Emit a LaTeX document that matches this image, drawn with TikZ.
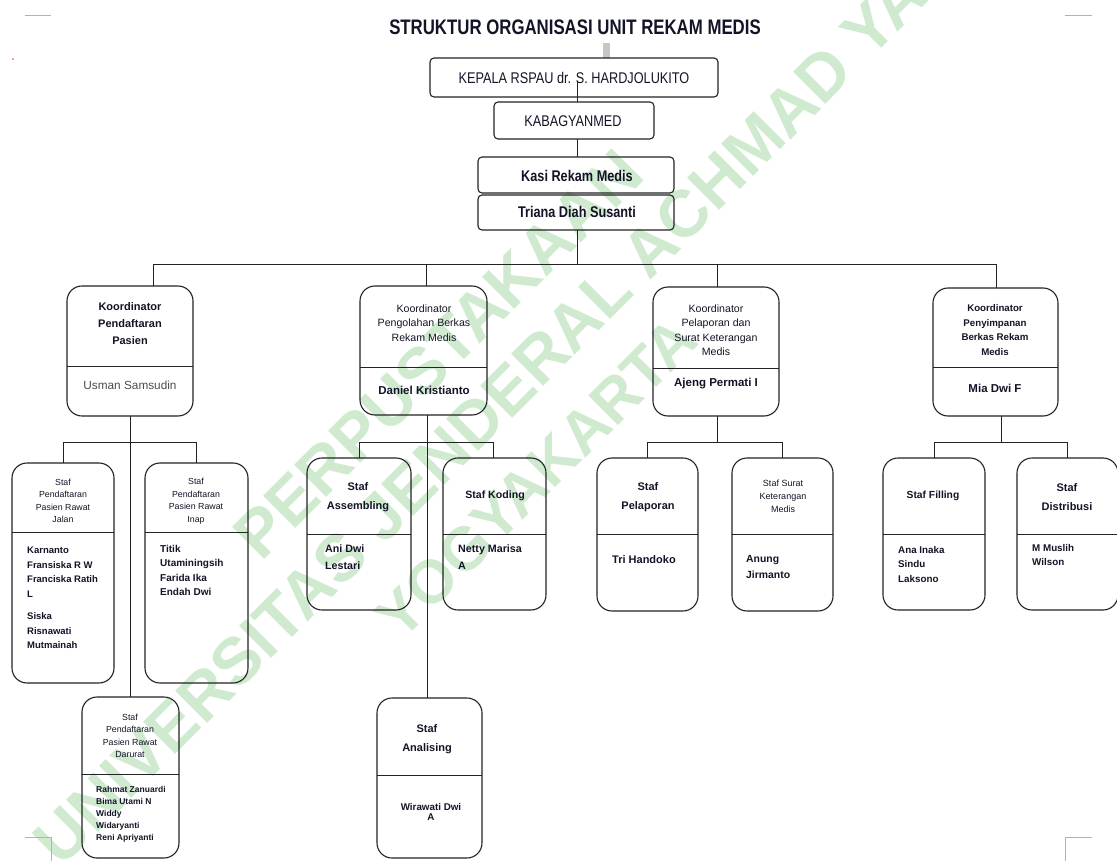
\documentclass[tikz,border=0pt]{standalone}
\usepackage{fontspec}
\setmainfont{Liberation Sans}
\newfontfamily\narrowfont[FakeStretch=0.8]{Liberation Sans}
\newfontfamily\condfont[FakeStretch=0.82]{Liberation Sans}
\definecolor{wm}{RGB}{208,234,208}
\definecolor{ln}{RGB}{35,35,35}
\definecolor{tx}{RGB}{20,20,40}
\tikzset{
  box/.style={draw=ln, line width=1.1pt, rounded corners=15pt, inner sep=0pt, outer sep=0pt},
  topbox/.style={draw=ln, line width=1.1pt, rounded corners=4pt, inner sep=0pt, outer sep=0pt},
  conn/.style={draw=ln, line width=1pt},
  wmk/.style={rotate=45, text=wm, font=\bfseries\fontsize{66}{70}\selectfont, inner sep=0pt},
  toptext/.style={font=\condfont\fontsize{15.5}{17}\selectfont, text=tx, inner sep=0pt},
  toptextb/.style={font=\condfont\bfseries\fontsize{15.5}{17}\selectfont, text=tx, inner sep=0pt},
  hdr/.style={font=\bfseries\fontsize{11}{18.5}\selectfont, align=center, inner sep=0pt, text=tx},
  khdr/.style={font=\bfseries\fontsize{11}{17}\selectfont, align=center, inner sep=0pt, text=tx},
  khdrs/.style={font=\fontsize{10.6}{14.5}\selectfont, align=center, inner sep=0pt, text=tx},
  kname/.style={font=\bfseries\fontsize{11.5}{13}\selectfont, inner sep=0pt, text=tx},
  tiny/.style={font=\fontsize{8.8}{12.5}\selectfont, align=center, inner sep=0pt, text=tx},
  nm/.style={font=\bfseries\fontsize{9.5}{14.5}\selectfont, align=left, inner sep=0pt, anchor=north west, text=tx},
  cropmark/.style={draw=gray!60, line width=0.8pt}
}
\newcommand\orgbox[6]{%
  \node[box, minimum width={(#4-#2)*1pt}, minimum height={(#5-#3)*1pt}] (#1) at ({(#2+#4)/2},{(#3+#5)/2}) {};
  \coordinate (#1d) at (0,#6);
  \draw[conn] (#1.west |- #1d) -- (#1.east |- #1d);}
\begin{document}
\begin{tikzpicture}[x=1pt,y=-1pt]
\useasboundingbox (0,0) rectangle (1117,861);
\clip (0,0) rectangle (1117,861);
\fill[white] (0,0) rectangle (1117,861);
% watermark
\node[wmk] (wm1) at (438,354) {PERPUSTAKAAN};
\node[wmk] (wm2) at (503,395) {UNIVERSITAS JENDERAL ACHMAD YANI};
\node[wmk, font=\bfseries\fontsize{61}{65}\selectfont] (wm3) at (536,478) {YOGYAKARTA};
% crop marks
\draw[cropmark] (25,15) -- (51,15);
\draw[cropmark] (1065,15) -- (1092,15);
\draw[cropmark] (25,837) -- (51,837) -- (51,861);
\draw[cropmark] (1092,837) -- (1065,837) -- (1065,861);
\fill[red!80] (13,59) circle (0.9);
% title
\node[font=\narrowfont\bfseries\fontsize{21}{24}\selectfont, text=tx, inner sep=0pt] (title) at (575,27) {STRUKTUR ORGANISASI UNIT REKAM MEDIS};
\fill[gray!45] (603,43) rectangle (610,58);
% top boxes
\node[topbox, minimum width=288pt, minimum height=39pt] (kepala) at (574,77.5) {};
\node[toptext] at (574,78) {KEPALA RSPAU dr. S. HARDJOLUKITO};
\node[topbox, minimum width=160pt, minimum height=37pt] (kabag) at (574,120.5) {};
\node[toptext] at (573,121) {KABAGYANMED};
\node[topbox, minimum width=196pt, minimum height=36pt] (kasi) at (576,175) {};
\node[toptextb] at (577,176) {Kasi Rekam Medis};
\node[topbox, minimum width=196pt, minimum height=35pt] (triana) at (576,212.5) {};
\node[toptextb] at (577,212) {Triana Diah Susanti};
\draw[conn] (577,82) -- (kabag.north -| 577,0);
\draw[conn] (kabag.south -| 577,0) -- (kasi.north -| 577,0);
\coordinate (bus) at (577,265);
\draw[conn] (triana.south -| bus) -- (bus);
% coordinators
\orgbox{k1}{67}{286}{193}{416}{366}
\orgbox{k2}{360}{286}{487}{415}{367}
\orgbox{k3}{653}{287}{779}{416}{368}
\orgbox{k4}{933}{288}{1058}{416}{367}
\draw[conn] (k1.north -| 153,0) -- (bus -| 153,0) -- (bus -| 996,0) -- (k4.north -| 996,0);
\draw[conn] (bus -| 426,0) -- (k2.north -| 426,0);
\draw[conn] (bus -| 717,0) -- (k3.north -| 717,0);
\node[khdr] at (130,324) {Koordinator\\Pendaftaran\\Pasien};
\node[font=\fontsize{11.8}{13}\selectfont, text=gray!60!black, inner sep=0pt] at (130,385) {Usman Samsudin};
\node[khdrs] at (424,323) {Koordinator\\Pengolahan Berkas\\Rekam Medis};
\node[kname] at (424,390) {Daniel Kristianto};
\node[khdrs] at (716,330) {Koordinator\\Pelaporan dan\\Surat Keterangan\\Medis};
\node[kname] at (716,384) {Ajeng Permati I};
\node[khdrs, font=\bfseries\fontsize{9.7}{14.5}\selectfont] at (995,330) {Koordinator\\Penyimpanan\\Berkas Rekam\\Medis};
\node[kname] at (995,388) {Mia Dwi F};
% staff boxes
\orgbox{s1}{12}{463}{114}{683}{532}
\orgbox{s2}{145}{463}{248}{683}{532}
\orgbox{s3}{82}{697}{179}{858}{774}
\orgbox{s4}{307}{458}{411}{610}{534}
\orgbox{s5}{443}{458}{546}{610}{534}
\orgbox{s6}{377}{698}{482}{858}{775}
\orgbox{s7}{597}{458}{698}{611}{534}
\orgbox{s8}{732}{458}{833}{611}{534}
\orgbox{s9}{883}{458}{985}{610}{534}
\orgbox{s10}{1017}{458}{1118}{610}{534}
% staff connectors
\draw[conn] (k1.south -| 130,0) -- (s3.north -| 130,0);
\draw[conn] (s1.north -| 63,0) -- (63,442) -- (196,442) -- (s2.north -| 196,0);
\draw[conn] (k2.south -| 427,0) -- (s6.north -| 427,0);
\draw[conn] (s4.north -| 359,0) -- (359,442) -- (493,442) -- (s5.north -| 493,0);
\draw[conn] (k3.south -| 717,0) -- (717,442);
\draw[conn] (s7.north -| 647,0) -- (647,442) -- (782,442) -- (s8.north -| 782,0);
\draw[conn] (k4.south -| 1001,0) -- (1001,442);
\draw[conn] (s9.north -| 934,0) -- (934,442) -- (1067,442) -- (s10.north -| 1067,0);
% staff texts
\node[tiny] at (63,501) {Staf\\Pendaftaran\\Pasien Rawat\\Jalan};
\node[nm] at (27,547) {Karnanto\\Fransiska R W\\Franciska Ratih\\L\\[8pt]Siska\\Risnawati\\Mutmainah};
\node[tiny] at (196,501) {Staf\\Pendaftaran\\Pasien Rawat\\Inap};
\node[nm, font=\bfseries\fontsize{10}{14.5}\selectfont] at (160,545) {Titik\\Utaminingsih\\Farida Ika\\Endah Dwi};
\node[tiny] at (130,736) {Staf\\Pendaftaran\\Pasien Rawat\\Darurat};
\node[nm, font=\bfseries\fontsize{8.5}{12}\selectfont] at (96,786) {Rahmat Zanuardi\\Bima Utami N\\Widdy\\Widaryanti\\Reni Apriyanti};
\node[hdr] at (358,497) {Staf\\Assembling};
\node[nm, font=\bfseries\fontsize{10.7}{17}\selectfont] at (325,545) {Ani Dwi\\Lestari};
\node[hdr, font=\bfseries\fontsize{10.6}{18.5}\selectfont] at (495,496) {Staf Koding};
\node[nm, font=\bfseries\fontsize{10.7}{17}\selectfont] at (458,545) {Netty Marisa\\A};
\node[hdr] at (427,739) {Staf\\Analising};
\node[font=\bfseries\fontsize{9.8}{10.5}\selectfont, align=center, inner sep=0pt, text=tx] at (431,812) {Wirawati Dwi\\A};
\node[hdr] at (648,497) {Staf\\Pelaporan};
\node[nm, font=\bfseries\fontsize{11}{16}\selectfont] at (612,555) {Tri Handoko};
\node[tiny, font=\fontsize{9}{13}\selectfont] at (783,496) {Staf Surat\\Keterangan\\Medis};
\node[nm, font=\bfseries\fontsize{10.4}{16}\selectfont] at (746,555) {Anung\\Jirmanto};
\node[hdr, font=\bfseries\fontsize{10.3}{18.5}\selectfont] at (933,496) {Staf Filling};
\node[nm, font=\bfseries\fontsize{9.8}{14.5}\selectfont] at (898,546) {Ana Inaka\\Sindu\\Laksono};
\node[hdr] at (1067,497) {Staf\\Distribusi};
\node[nm, font=\bfseries\fontsize{9.8}{14}\selectfont] at (1032,544) {M Muslih\\Wilson};
\end{tikzpicture}
\end{document}
